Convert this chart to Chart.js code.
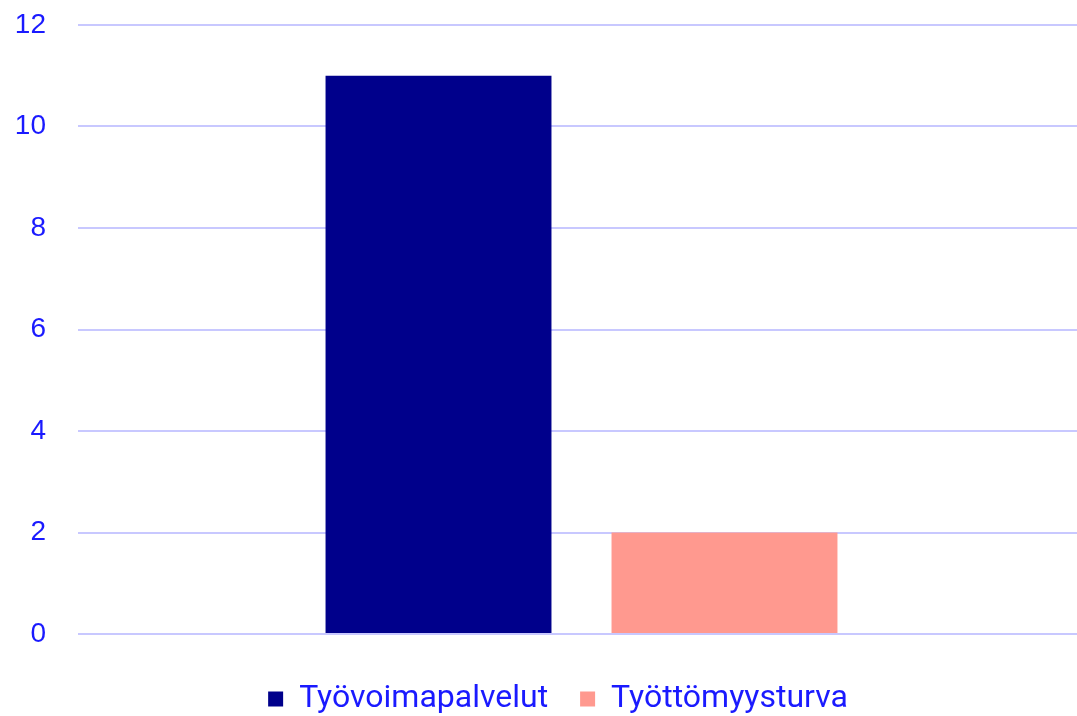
<!DOCTYPE html>
<html>
<head>
<meta charset="utf-8">
<script src="https://cdn.jsdelivr.net/npm/chart.js@4"></script>
<style>
  html, body { margin: 0; padding: 0; background: #fff; overflow: hidden; }
  #wrap { width: 1085px; height: 716px; }
</style>
</head>
<body>
<div id="wrap"><canvas id="chart" width="1085" height="716"></canvas></div>
<script>
// Data
const categories = [""];
const seriesNames = ["Työvoimapalvelut", "Työttömyysturva"];
const tyovoimapalvelut = [11];
const tyottomyysturva = [2];
const yTicks = [0, 2, 4, 6, 8, 10, 12];

const tickBlue = "#1a1aff";

// nudge the legend row a bit lower / right, like in the original
const legendNudge = {
  id: "legendNudge",
  afterLayout(chart) {
    const lg = chart.legend;
    if (!lg) return;
    lg.top += 9;
    lg.left += 8;
    lg.right += 8;
  }
};

new Chart(document.getElementById("chart"), {
  type: "bar",
  data: {
    labels: categories,
    datasets: [
      {
        label: seriesNames[0],
        data: tyovoimapalvelut,
        backgroundColor: "#00008b"
      },
      {
        label: seriesNames[1],
        data: tyottomyysturva,
        backgroundColor: "#ff998f"
      }
    ]
  },
  plugins: [legendNudge],
  options: {
    responsive: false,
    animation: false,
    categoryPercentage: 0.568,
    barPercentage: 0.79,
    layout: { padding: { top: 25, left: 15, right: 0, bottom: 0 } },
    plugins: {
      tooltip: { enabled: false },
      legend: {
        position: "bottom",
        labels: {
          color: tickBlue,
          font: { family: "Roboto", size: 32 },
          boxWidth: 15,
          boxHeight: 15,
          padding: 32
        }
      }
    },
    scales: {
      x: {
        grid: { display: false },
        border: { display: false },
        ticks: { display: false }
      },
      y: {
        min: yTicks[0],
        max: yTicks[yTicks.length - 1],
        afterBuildTicks: axis => { axis.ticks = yTicks.map(v => ({ value: v })); },
        afterFit: axis => {
          axis.width = 63;
          axis.paddingTop = 0;
          axis.paddingBottom = 0;
        },
        grid: { color: "#c8c8ff", lineWidth: 2, drawTicks: false },
        border: { display: false },
        ticks: {
          color: tickBlue,
          font: { family: "Liberation Sans", size: 28 },
          padding: 32
        }
      }
    }
  }
});
</script>
</body>
</html>
